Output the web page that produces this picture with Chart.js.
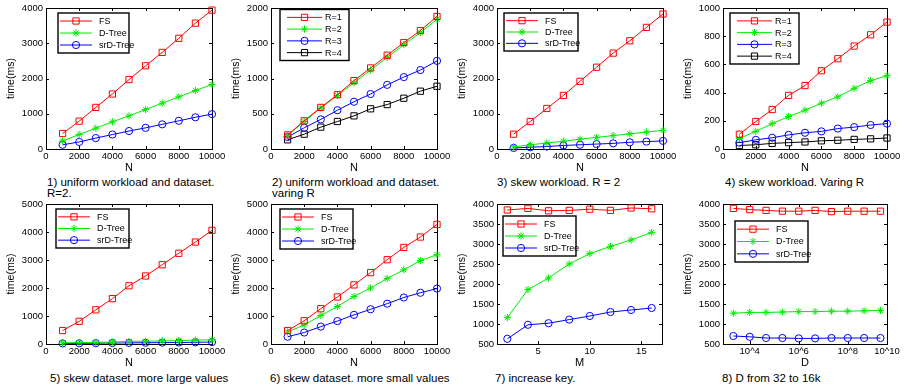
<!DOCTYPE html>
<html>
<head>
<meta charset="utf-8">
<script src="https://cdn.jsdelivr.net/npm/chart.js@4/dist/chart.umd.min.js"></script>
<style>
  body { margin: 0; background: #fff; width: 904px; height: 389px; position: relative; overflow: hidden;
         font-family: "Liberation Sans", Arial, sans-serif; }
  canvas { position: absolute; }
  .cap { position: absolute; font-size: 11.5px; line-height: 10.5px; color: #000; white-space: nowrap; }
</style>
</head>
<body>
<div class="cap" style="left:47px;top:177px">1) uniform workload and dataset.<br>R=2.</div>
<div class="cap" style="left:272px;top:177px">2) uniform workload and dataset.<br>varing R</div>
<div class="cap" style="left:497px;top:177px">3) skew workload. R = 2</div>
<div class="cap" style="left:725px;top:177px">4) skew workload. Varing R</div>
<div class="cap" style="left:50px;top:373px">5) skew dataset. more large values</div>
<div class="cap" style="left:270px;top:373px">6) skew dataset. more small values</div>
<div class="cap" style="left:495px;top:373px">7) increase key.</div>
<div class="cap" style="left:722px;top:373px">8) D from 32 to 16k</div>

<script>
// x values
const nValues = [1000, 2000, 3000, 4000, 5000, 6000, 7000, 8000, 9000, 10000];
const mValues = [2, 4, 6, 8, 10, 12, 14, 16];
const dValues = [2154, 10000, 46416, 215443, 1000000, 4641589, 21544347, 100000000, 464158883, 2154434690];

// tick values
const nTicks = [0, 2000, 4000, 6000, 8000, 10000];
const mTicks = [5, 10, 15];
const dTicks = [1e4, 1e6, 1e8, 3.98e9];
const dTickLabels = ['10^4', '10^6', '10^8', '10^10'];
const yTicks4000 = [0, 1000, 2000, 3000, 4000];
const yTicks2000 = [0, 500, 1000, 1500, 2000];
const yTicks1000 = [0, 200, 400, 600, 800, 1000];
const yTicks5000 = [0, 1000, 2000, 3000, 4000, 5000];
const yTicksKey = [500, 1000, 1500, 2000, 2500, 3000, 3500, 4000];

// 1) uniform workload and dataset, R=2
const p1FS    = [440, 790, 1180, 1560, 1970, 2360, 2740, 3140, 3570, 3940];
const p1DTree = [230, 410, 590, 770, 940, 1120, 1300, 1480, 1660, 1830];
const p1SrD   = [120, 200, 310, 410, 510, 600, 700, 800, 900, 990];

// 2) uniform workload and dataset, varing R
const p2R1 = [200, 400, 590, 770, 970, 1150, 1330, 1510, 1680, 1880];
const p2R2 = [190, 390, 580, 760, 940, 1120, 1300, 1480, 1650, 1840];
const p2R3 = [170, 300, 420, 550, 670, 780, 910, 1020, 1120, 1250];
const p2R4 = [130, 210, 310, 390, 470, 570, 630, 720, 820, 890];

// 3) skew workload, R = 2
const p3FS    = [420, 780, 1150, 1520, 1920, 2320, 2720, 3070, 3450, 3830];
const p3DTree = [60, 120, 170, 220, 280, 330, 380, 430, 480, 530];
const p3SrD   = [30, 50, 70, 100, 120, 140, 160, 190, 210, 230];

// 4) skew workload, varing R
const p4R1 = [105, 195, 280, 380, 450, 555, 640, 730, 810, 900];
const p4R2 = [75, 125, 180, 230, 275, 325, 370, 430, 485, 520];
const p4R3 = [45, 65, 80, 100, 115, 125, 145, 155, 170, 180];
const p4R4 = [25, 30, 40, 45, 50, 58, 62, 68, 72, 78];

// 5) skew dataset, more large values
const p5FS    = [480, 810, 1220, 1620, 2080, 2430, 2830, 3240, 3640, 4060];
const p5DTree = [40, 50, 60, 70, 90, 100, 110, 120, 140, 150];
const p5SrD   = [20, 25, 30, 35, 40, 45, 50, 55, 60, 70];

// 6) skew dataset, more small values
const p6FS    = [480, 830, 1260, 1680, 2110, 2550, 3010, 3450, 3820, 4270];
const p6DTree = [430, 680, 1020, 1340, 1700, 2000, 2340, 2650, 2980, 3190];
const p6SrD   = [260, 410, 620, 820, 1040, 1240, 1440, 1660, 1830, 1980];

// 7) increase key
const p7FS    = [3850, 3890, 3830, 3840, 3870, 3840, 3900, 3880];
const p7DTree = [1160, 1860, 2150, 2500, 2760, 2940, 3100, 3290];
const p7SrD   = [630, 980, 1020, 1110, 1200, 1300, 1350, 1400];

// 8) D from 32 to 16k
const p8FS    = [3890, 3860, 3840, 3820, 3820, 3840, 3810, 3820, 3820, 3820];
const p8DTree = [1270, 1290, 1290, 1300, 1310, 1310, 1320, 1320, 1330, 1340];
const p8SrD   = [700, 680, 650, 650, 640, 640, 650, 650, 650, 650];

Chart.defaults.font.family = '"Liberation Sans", Arial, sans-serif';
Chart.defaults.color = '#000';
Chart.defaults.animation = false;

const STYLES = {
  red:   { color: '#ff0000', pointStyle: 'rect',   radius: 4.4 },
  green: { color: '#00ea00', pointStyle: 'star',   radius: 3.6 },
  blue:  { color: '#0000ff', pointStyle: 'circle', radius: 3.6 },
  black: { color: '#000000', pointStyle: 'rect',   radius: 4.4 }
};

// legend sample geometry (line start/end, marker x, text x)
const LEG_LONG  = { l0: 2, l1: 34, mx: 18, tx: 41 };
const LEG_SHORT = { l0: 7, l1: 42, mx: 24.5, tx: 45 };

// MATLAB-like axes box, inward ticks, boxed legend
const matlabAxes = {
  id: 'matlabAxes',
  beforeDatasetsDraw(chart) {
    const { ctx, chartArea: a, scales } = chart;
    ctx.save();
    ctx.strokeStyle = '#000';
    ctx.lineWidth = 1;
    ctx.strokeRect(a.left + 0.5, a.top + 0.5, a.right - a.left, a.bottom - a.top);
    ctx.beginPath();
    scales.x.ticks.forEach(t => {
      const px = Math.round(scales.x.getPixelForValue(t.value)) + 0.5;
      ctx.moveTo(px, a.bottom); ctx.lineTo(px, a.bottom - 3);
      ctx.moveTo(px, a.top); ctx.lineTo(px, a.top + 3);
    });
    scales.y.ticks.forEach(t => {
      const py = Math.round(scales.y.getPixelForValue(t.value)) + 0.5;
      ctx.moveTo(a.left, py); ctx.lineTo(a.left + 3, py);
      ctx.moveTo(a.right, py); ctx.lineTo(a.right - 3, py);
    });
    ctx.stroke();
    ctx.restore();
  },
  afterDraw(chart) {
    const lg = chart.options.plugins.matLegend;
    if (!lg) return;
    const { ctx, chartArea: a } = chart;
    const x = a.left + lg.dx, y = a.top + lg.dy;
    ctx.save();
    ctx.fillStyle = '#fff';
    ctx.fillRect(x, y, lg.w, lg.h);
    ctx.strokeStyle = '#000';
    ctx.lineWidth = 1.4;
    ctx.strokeRect(x, y, lg.w, lg.h);
    const sets = chart.data.datasets;
    const rowH = (lg.h - 4) / sets.length;
    sets.forEach((ds, i) => {
      const cy = y + 2 + rowH * (i + 0.5);
      ctx.strokeStyle = ds.borderColor;
      ctx.lineWidth = 1;
      ctx.beginPath();
      ctx.moveTo(x + lg.geo.l0, cy);
      ctx.lineTo(x + lg.geo.l1, cy);
      ctx.stroke();
      ctx.fillStyle = 'rgba(0,0,0,0)';
      Chart.helpers.drawPoint(ctx, { pointStyle: ds.pointStyle, radius: ds.pointRadius, borderWidth: 1, rotation: 0 },
        x + lg.geo.mx, cy);
      ctx.fillStyle = '#000';
      ctx.font = '9px "Liberation Sans", Arial, sans-serif';
      ctx.textBaseline = 'middle';
      ctx.fillText(ds.label, x + lg.geo.tx, cy + 0.5);
    });
    ctx.restore();
  }
};

function makeChart(cfg) {
  const [x0, y0, x1, y1] = cfg.box;
  const canvas = document.createElement('canvas');
  canvas.width = x1 - x0 + 46 + 16;
  canvas.height = y1 - y0 + 8 + 30;
  canvas.style.left = (x0 - 46) + 'px';
  canvas.style.top = (y0 - 8) + 'px';
  document.body.appendChild(canvas);

  const datasets = cfg.series.map(s => {
    const st = STYLES[s.style];
    return {
      label: s.label,
      data: cfg.xs.map((x, i) => ({ x: x, y: s.data[i] })),
      borderColor: st.color,
      backgroundColor: 'rgba(0,0,0,0)',
      borderWidth: 1,
      pointStyle: st.pointStyle,
      pointRadius: st.radius,
      pointBorderWidth: 1,
      pointBorderColor: st.color,
      pointBackgroundColor: 'rgba(0,0,0,0)',
      tension: 0,
      clip: false
    };
  });

  new Chart(canvas, {
    type: 'line',
    data: { datasets: datasets },
    options: {
      responsive: false,
      animation: false,
      layout: { padding: { left: 0, top: 8, right: 16, bottom: 0 }, autoPadding: false },
      plugins: {
        legend: { display: false },
        tooltip: { enabled: false },
        matLegend: cfg.legend
      },
      scales: {
        x: {
          type: cfg.xType || 'linear',
          min: cfg.xMin, max: cfg.xMax,
          grid: { display: false, drawTicks: false },
          border: { display: false },
          afterBuildTicks: sc => { sc.ticks = cfg.xTicks.map(v => ({ value: v })); },
          afterFit: sc => { sc.height = 30; sc.paddingLeft = 0; sc.paddingRight = 0; },
          ticks: {
            autoSkip: false, maxRotation: 0, minRotation: 0, padding: 1.5,
            font: { size: 9.5 }, color: '#000',
            callback: (v, i) => cfg.xLabels ? cfg.xLabels[i] : String(v)
          },
          title: { display: true, text: cfg.xTitle, font: { size: 11 }, color: '#000',
                   padding: { top: 0, bottom: 4 } }
        },
        y: {
          min: cfg.yTicks[0], max: cfg.yTicks[cfg.yTicks.length - 1],
          grid: { display: false, drawTicks: false },
          border: { display: false },
          afterBuildTicks: sc => { sc.ticks = cfg.yTicks.map(v => ({ value: v })); },
          afterFit: sc => { sc.width = 46; sc.paddingTop = 0; sc.paddingBottom = 0; },
          ticks: {
            autoSkip: false, padding: 3, font: { size: 9.5 }, color: '#000',
            callback: v => String(v)
          },
          title: { display: true, text: 'time(ms)', font: { size: 10.5 }, color: '#000',
                   padding: { top: 4.7, bottom: 0 } }
        }
      }
    },
    plugins: [matlabAxes]
  });
}

const treeLabels = ['FS', 'D-Tree', 'srD-Tree'];
const rLabels = ['R=1', 'R=2', 'R=3', 'R=4'];

makeChart({
  box: [46, 8, 212, 149], xs: nValues, xMin: 0, xMax: 10000, xTicks: nTicks, xTitle: 'N', yTicks: yTicks4000,
  series: [
    { label: treeLabels[0], data: p1FS, style: 'red' },
    { label: treeLabels[1], data: p1DTree, style: 'green' },
    { label: treeLabels[2], data: p1SrD, style: 'blue' }
  ],
  legend: { dx: 12, dy: 5, w: 71, h: 40, geo: LEG_LONG }
});

makeChart({
  box: [271, 8, 437, 149], xs: nValues, xMin: 0, xMax: 10000, xTicks: nTicks, xTitle: 'N', yTicks: yTicks2000,
  series: [
    { label: rLabels[0], data: p2R1, style: 'red' },
    { label: rLabels[1], data: p2R2, style: 'green' },
    { label: rLabels[2], data: p2R3, style: 'blue' },
    { label: rLabels[3], data: p2R4, style: 'black' }
  ],
  legend: { dx: 9, dy: 1.5, w: 69, h: 51, geo: LEG_SHORT }
});

makeChart({
  box: [497, 8, 663, 149], xs: nValues, xMin: 0, xMax: 10000, xTicks: nTicks, xTitle: 'N', yTicks: yTicks4000,
  series: [
    { label: treeLabels[0], data: p3FS, style: 'red' },
    { label: treeLabels[1], data: p3DTree, style: 'green' },
    { label: treeLabels[2], data: p3SrD, style: 'blue' }
  ],
  legend: { dx: 7, dy: 5, w: 74, h: 38, geo: LEG_LONG }
});

makeChart({
  box: [723, 8, 887, 149], xs: nValues, xMin: 0, xMax: 10000, xTicks: nTicks, xTitle: 'N', yTicks: yTicks1000,
  series: [
    { label: rLabels[0], data: p4R1, style: 'red' },
    { label: rLabels[1], data: p4R2, style: 'green' },
    { label: rLabels[2], data: p4R3, style: 'blue' },
    { label: rLabels[3], data: p4R4, style: 'black' }
  ],
  legend: { dx: 7, dy: 5, w: 69, h: 51, geo: LEG_SHORT }
});

makeChart({
  box: [46, 204, 212, 344], xs: nValues, xMin: 0, xMax: 10000, xTicks: nTicks, xTitle: 'N', yTicks: yTicks5000,
  series: [
    { label: treeLabels[0], data: p5FS, style: 'red' },
    { label: treeLabels[1], data: p5DTree, style: 'green' },
    { label: treeLabels[2], data: p5SrD, style: 'blue' }
  ],
  legend: { dx: 10, dy: 5, w: 73, h: 39, geo: LEG_LONG }
});

makeChart({
  box: [271, 204, 437, 344], xs: nValues, xMin: 0, xMax: 10000, xTicks: nTicks, xTitle: 'N', yTicks: yTicks5000,
  series: [
    { label: treeLabels[0], data: p6FS, style: 'red' },
    { label: treeLabels[1], data: p6DTree, style: 'green' },
    { label: treeLabels[2], data: p6SrD, style: 'blue' }
  ],
  legend: { dx: 9, dy: 5, w: 73, h: 40, geo: LEG_LONG }
});

makeChart({
  box: [497, 204, 662, 344], xs: mValues, xMin: 1, xMax: 17, xTicks: mTicks, xTitle: 'M', yTicks: yTicksKey,
  series: [
    { label: treeLabels[0], data: p7FS, style: 'red' },
    { label: treeLabels[1], data: p7DTree, style: 'green' },
    { label: treeLabels[2], data: p7SrD, style: 'blue' }
  ],
  legend: { dx: 6, dy: 12, w: 73, h: 40, geo: LEG_LONG }
});

makeChart({
  box: [723, 204, 887, 344], xs: dValues, xType: 'logarithmic', xMin: 813, xMax: 3.98e9,
  xTicks: dTicks, xLabels: dTickLabels, xTitle: 'D', yTicks: yTicksKey,
  series: [
    { label: treeLabels[0], data: p8FS, style: 'red' },
    { label: treeLabels[1], data: p8DTree, style: 'green' },
    { label: treeLabels[2], data: p8SrD, style: 'blue' }
  ],
  legend: { dx: 12, dy: 17, w: 73, h: 41, geo: LEG_LONG }
});
</script>
</body>
</html>
